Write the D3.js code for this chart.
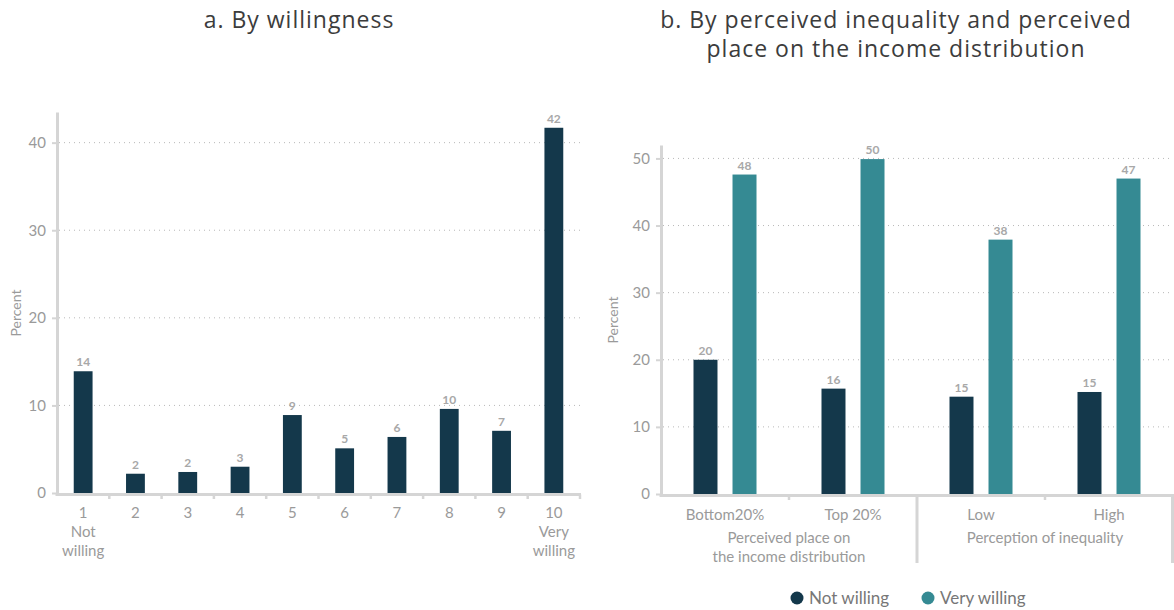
<!DOCTYPE html>
<html><head><meta charset="utf-8">
<script src="https://cdn.jsdelivr.net/npm/d3@7"></script>
<style>
body{margin:0;background:#fff;}
svg{display:block;font-family:Lato,"Open Sans",sans-serif;}
</style></head>
<body><svg id="c" width="1174" height="610"></svg>
<script>
// ---- data ----
const catsA = ["1","2","3","4","5","6","7","8","9","10"];
const catSubA = [["Not","willing"],[],[],[],[],[],[],[],[],["Very","willing"]];
const valuesA = [13.9,2.2,2.4,3.0,8.9,5.1,6.4,9.6,7.1,41.7];
const ticksA = [0,10,20,30,40];

const catsB = ["Bottom20%","Top 20%","Low","High"];
const groupsB = [["Perceived place on","the income distribution"],["Perception of inequality"]];
const seriesB = ["Not willing","Very willing"];
const notWilling = [20.0,15.7,14.5,15.2];
const veryWilling = [47.6,49.9,37.9,47.0];
const ticksB = [0,10,20,30,40,50];

const titleA = "a. By willingness";
const titleB = ["b. By perceived inequality and perceived","place on the income distribution"];

// ---- styles ----
const navy = "#14384b", teal = "#358a93";
const axisCol = "#d5d5d5", gridCol = "#b8b8b8", tickTxt = "#9a9a9a", valTxt = "#a8a8a8";
const titleFont = "'Open Sans',sans-serif";

const svg = d3.select("#c");

function yAxis(g, y, ticks, x0, x1) {
  g.selectAll(".grid").data(ticks.filter(t => t > 0)).join("line")
    .attr("x1", x0 + 2).attr("x2", x1).attr("y1", d => y(d)).attr("y2", d => y(d))
    .attr("stroke", gridCol).attr("stroke-width", 1).attr("stroke-dasharray", "1,4");
  const ax = g.append("g").attr("transform", `translate(${x0},0)`)
    .call(d3.axisLeft(y).tickValues(ticks).tickSize(5).tickSizeOuter(0).tickPadding(6).tickFormat(d3.format("d")));
  ax.select(".domain").attr("stroke", axisCol).attr("stroke-width", 3);
  ax.selectAll(".tick line").attr("stroke", axisCol).attr("stroke-width", 2);
  ax.selectAll(".tick text").attr("fill", tickTxt).style("font-size", "15px").style("font-family", "Lato,sans-serif");
}

function title(x, lines) {
  const t = svg.append("text").attr("text-anchor", "middle").attr("fill", "#3c3c3c")
    .style("font-size", "23px").style("font-family", titleFont).style("letter-spacing", "1px");
  lines.forEach((s, j) => t.append("tspan").attr("x", x).attr("y", 28 + j * 29).text(s));
}

// ---- Panel A ----
const gA = svg.append("g");
const xA = d3.scaleBand().domain(catsA).range([57, 580]).paddingInner(0.64).paddingOuter(0.32);
const yA = d3.scaleLinear().domain([0, 43.5]).range([493, 112]);
yAxis(gA, yA, ticksA, 57, 580);

gA.selectAll(".bar").data(valuesA).join("rect")
  .attr("x", (d, i) => xA(catsA[i])).attr("width", xA.bandwidth())
  .attr("y", d => yA(d)).attr("height", d => yA(0) - yA(d)).attr("fill", navy);
gA.selectAll(".val").data(valuesA).join("text")
  .attr("x", (d, i) => xA(catsA[i]) + xA.bandwidth() / 2).attr("y", d => yA(d) - 5)
  .attr("text-anchor", "middle").attr("fill", valTxt).style("font-size", "12px").style("font-weight", "bold")
  .text(d => Math.round(d));
gA.append("line").attr("x1", 55.5).attr("x2", 581).attr("y1", yA(0) + 1.5).attr("y2", yA(0) + 1.5)
  .attr("stroke", axisCol).attr("stroke-width", 3);
const stepA = xA.step();
gA.selectAll(".xt").data(catsA).join("line")
  .attr("x1", d => xA(d) + xA.bandwidth() / 2 + stepA / 2).attr("x2", d => xA(d) + xA.bandwidth() / 2 + stepA / 2)
  .attr("y1", yA(0) + 1.5).attr("y2", yA(0) + 6).attr("stroke", axisCol).attr("stroke-width", 2.5);
catsA.forEach((c, i) => {
  const t = gA.append("text").attr("x", xA(c) + xA.bandwidth() / 2).attr("y", 518)
    .attr("text-anchor", "middle").attr("fill", tickTxt).style("font-size", "15px");
  [c].concat(catSubA[i]).forEach((s, j) => t.append("tspan").attr("x", xA(c) + xA.bandwidth() / 2).attr("dy", j ? 19 : 0).text(s));
});
gA.append("text").attr("transform", "translate(21,313) rotate(-90)").attr("text-anchor", "middle")
  .attr("fill", tickTxt).style("font-size", "14px").text("Percent");
title(299, [titleA]);

// ---- Panel B ----
const gB = svg.append("g");
const xB = d3.scaleBand().domain(catsB).range([661, 1173]);
const xSub = d3.scaleBand().domain(seriesB).range([0, xB.bandwidth()]).paddingInner(0.385).paddingOuter(0.833);
const yB = d3.scaleLinear().domain([0, 52]).range([494, 145]);
yAxis(gB, yB, ticksB, 661, 1173);

const seriesVals = [notWilling, veryWilling];
const colors = d3.scaleOrdinal().domain(seriesB).range([navy, teal]);
seriesB.forEach((s, si) => {
  gB.selectAll(".b" + si).data(seriesVals[si]).join("rect")
    .attr("x", (d, i) => xB(catsB[i]) + xSub(s)).attr("width", xSub.bandwidth())
    .attr("y", d => yB(d)).attr("height", d => yB(0) - yB(d)).attr("fill", colors(s));
  gB.selectAll(".v" + si).data(seriesVals[si]).join("text")
    .attr("x", (d, i) => xB(catsB[i]) + xSub(s) + xSub.bandwidth() / 2).attr("y", d => yB(d) - 5)
    .attr("text-anchor", "middle").attr("fill", valTxt).style("font-size", "12px").style("font-weight", "bold")
    .text(d => Math.round(d));
});
gB.append("line").attr("x1", 659.5).attr("x2", 1174).attr("y1", yB(0) + 1.5).attr("y2", yB(0) + 1.5)
  .attr("stroke", axisCol).attr("stroke-width", 3);
catsB.forEach((c, i) => {
  const xr = xB(c) + xB.bandwidth();
  const long = i % 2 === 1;
  gB.append("line").attr("x1", Math.min(xr, 1172.5)).attr("x2", Math.min(xr, 1172.5))
    .attr("y1", yB(0) + 1.5).attr("y2", long ? 563 : yB(0) + 6).attr("stroke", axisCol).attr("stroke-width", long ? 3 : 2.5);
  gB.append("text").attr("x", xB(c) + xB.bandwidth() / 2).attr("y", 520).attr("text-anchor", "middle")
    .attr("fill", tickTxt).style("font-size", "15px").text(c);
});
groupsB.forEach((g, gi) => {
  const cx = xB(catsB[gi * 2]) + xB.bandwidth();
  const t = gB.append("text").attr("x", cx).attr("y", 543).attr("text-anchor", "middle")
    .attr("fill", tickTxt).style("font-size", "15px");
  g.forEach((s, j) => t.append("tspan").attr("x", cx).attr("dy", j ? 19 : 0).text(s));
});
gB.append("text").attr("transform", "translate(618,320) rotate(-90)").attr("text-anchor", "middle")
  .attr("fill", tickTxt).style("font-size", "14px").text("Percent");
title(896, titleB);

// legend
const legX = [797, 928];
seriesB.forEach((s, i) => {
  svg.append("circle").attr("cx", legX[i]).attr("cy", 598).attr("r", 6.5).attr("fill", colors(s));
  svg.append("text").attr("x", legX[i] + 12).attr("y", 604).attr("fill", "#777").style("font-size", "17px").text(s);
});
</script></body></html>
